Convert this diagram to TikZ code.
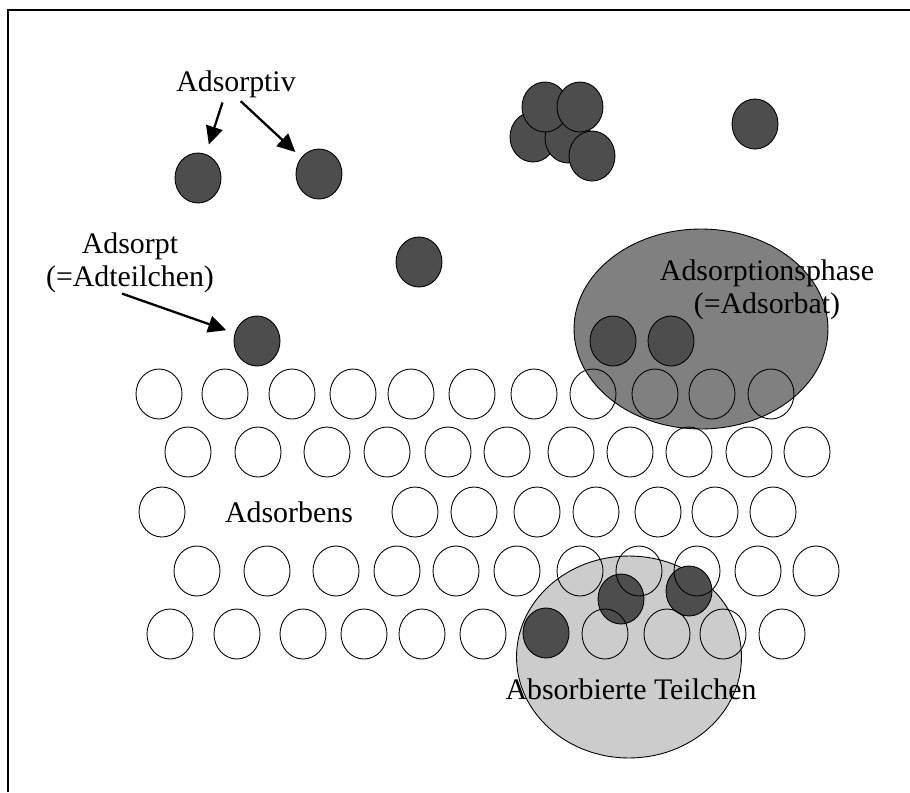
\documentclass[tikz,border=0pt]{standalone}
\usepackage{fontspec}
\setmainfont{Liberation Serif}
\usetikzlibrary{arrows.meta,shapes.geometric}
\definecolor{col1}{RGB}{77,77,77}
\definecolor{col2}{RGB}{128,128,128}
\definecolor{col3}{RGB}{204,204,204}
\tikzstyle{frei}=[draw, ellipse, minimum width=0.92cm, minimum height=1cm, inner sep=0pt, line width=0.5pt]
\tikzstyle{teilchen}=[frei, fill=col1]
\tikzstyle{phase}=[draw, ellipse, fill=col2, minimum width=5.08cm, minimum height=4cm, line width=0.5pt]
\tikzstyle{absorb}=[draw, ellipse, fill=col3, minimum width=4.5cm, minimum height=4.04cm, line width=0.5pt]
\tikzstyle{beschr}=[align=center, inner sep=0pt]
\tikzstyle{pfeil}=[-{Triangle[length=0.36cm,width=0.34cm]}, line width=1.3pt]

\begin{document}
\begin{tikzpicture}[x=0.02cm,y=-0.02cm,font=\fontsize{17}{19}\selectfont]
    \useasboundingbox (0,0) rectangle (910,792);
    \draw[line width=1.2pt] (8,792) -- (8,10) -- (910,10);
    % Phasen
    \node [phase] (ph) at (701,329) {};
    \node [absorb] (ab) at (629,657) {};
    % Adsorptiv / Adsorpt
    \node [teilchen] (t1) at (198,178) {};
    \node [teilchen] (t2) at (319,174) {};
    \node [teilchen] (t3) at (419,262) {};
    \node [teilchen] (t4) at (257,341) {};
    \node [teilchen] (t7) at (533,137) {};
    \node [teilchen] (t8) at (568,138) {};
    \node [teilchen] (t5) at (545,107) {};
    \node [teilchen] (t6) at (580,107) {};
    \node [teilchen] (t9) at (592,156) {};
    \node [teilchen] (t10) at (755,124) {};
    \node [teilchen] (t11) at (613,341) {};
    \node [teilchen] (t12) at (671,341) {};
    \node [teilchen] (t13) at (546,633) {};
    \node [teilchen] (t14) at (621,599) {};
    \node [teilchen] (t15) at (689,591) {};
    % Adsorbens
    \foreach \x in {159,225,292,353,411,472,534,593,655,712,771}
        \node [frei] (r1-\x) at (\x,394) {};
    \foreach \x in {188,258,327,387,448,507,571,630,689,749,807}
        \node [frei] (r2-\x) at (\x,452) {};
    \foreach \x in {162,415,474,537,596,658,715,773}
        \node [frei] (r3-\x) at (\x,512) {};
    \foreach \x in {197,267,336,397,456,517,580,639,697,758,816}
        \node [frei] (r4-\x) at (\x,571) {};
    \foreach \x in {170,237,303,364,422,483,605,667,723,782}
        \node [frei] (r5-\x) at (\x,634) {};
    % Texte
    \node [beschr, anchor=base] (adsorptiv) at (236,91) {Adsorptiv};
    \node [beschr] (adsorpt) at (130,263) {Adsorpt\\(=Adteilchen)};
    \node [beschr] (phasetxt) at (767,290) {Adsorptionsphase\\(=Adsorbat)};
    \node [beschr, anchor=base] (adsorbens) at (289,522) {Adsorbens};
    \node [beschr, anchor=base] (absorbtxt) at (631,699) {Absorbierte Teilchen};
    \draw [pfeil, shorten <=0.1cm, shorten >=0.2cm] ([xshift=-0.24cm]adsorptiv.south) -- (t1);
    \draw [pfeil, shorten <=0.1cm, shorten >=0.16cm] ([xshift=0.02cm]adsorptiv.south) -- (t2);
    \draw [pfeil, shorten >=0.18cm] ([xshift=-0.16cm]adsorpt.south) -- (t4);
\end{tikzpicture}
\end{document}
